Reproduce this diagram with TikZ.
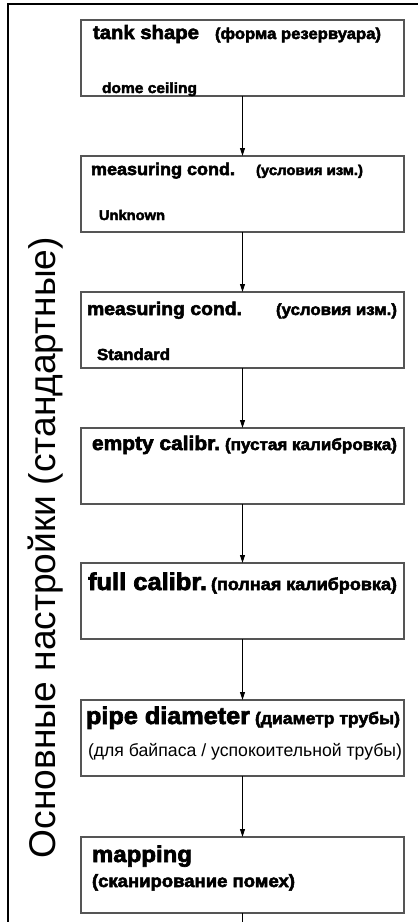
\documentclass[tikz,border=0pt]{standalone}
\usepackage{fontspec}
\usepackage{graphicx}
\setmainfont{Liberation Sans}
\newfontfamily\heavy[FakeStretch=1.05,FakeBold=3]{Liberation Sans}
\usetikzlibrary{arrows.meta}
\definecolor{boxgray}{HTML}{555555}
\newcommand{\hv}[2]{\resizebox{#1pt}{!}{\heavy\bfseries\fontsize{17}{17}\selectfont #2}}
\newcommand{\rg}[2]{\resizebox{#1pt}{!}{\fontsize{17}{17}\selectfont #2}}
\begin{document}
\begin{tikzpicture}[x=1pt,y=-1pt,
  stepbox/.style={draw=boxgray, line width=1.1pt, minimum width=323pt, minimum height=76pt, anchor=north west, inner sep=0pt, outer sep=0pt},
  tx/.style={anchor=base west, inner sep=0pt, outer sep=0pt},
  link/.style={draw=black, line width=1pt, -{Triangle[length=8pt,width=5pt]}},
  frame/.style={draw=black, line width=1.4pt}]
\useasboundingbox (0,0) rectangle (418,922);
% outer frame (open at bottom and right)
\coordinate (fr) at (418,4);
\coordinate (fc) at (8,4);
\coordinate (fb) at (8,922);
\draw[frame] (fr) -- (fc) -- (fb);
% vertical label
\node[rotate=90, anchor=base, inner sep=0pt] (side) at (55.5,547.5) {\rg{621}{Основные настройки (стандартные)}};
% boxes
\node[stepbox] (b1) at (81,20) {};
\node[stepbox] (b2) at (81,156) {};
\node[stepbox] (b3) at (81,292) {};
\node[stepbox] (b4) at (81,428) {};
\node[stepbox] (b5) at (81,563) {};
\node[stepbox] (b6) at (81,700) {};
\node[stepbox] (b7) at (81,837) {};
% texts
\node[tx] (t1a) at (93,39) {\hv{106}{tank shape}};
\node[tx] (t1b) at (215,39) {\hv{166}{(форма резервуара)}};
\node[tx] (t1c) at (102,93) {\hv{95}{dome ceiling}};
\node[tx] (t2a) at (91,175) {\hv{144}{measuring cond.}};
\node[tx] (t2b) at (256,175) {\hv{107}{(условия изм.)}};
\node[tx] (t2c) at (99,220) {\hv{66}{Unknown}};
\node[tx] (t3a) at (87,315) {\hv{155}{measuring cond.}};
\node[tx] (t3b) at (276,315) {\hv{121}{(условия изм.)}};
\node[tx] (t3c) at (97,360) {\hv{73}{Standard}};
\node[tx] (t4a) at (92,450) {\hv{128}{empty calibr.}};
\node[tx] (t4b) at (225,450) {\hv{172}{(пустая калибровка)}};
\node[tx] (t5a) at (88,590) {\hv{119}{full calibr.}};
\node[tx] (t5b) at (211,590) {\hv{186}{(полная калибровка)}};
\node[tx] (t6a) at (86,724) {\hv{164}{pipe diameter}};
\node[tx] (t6b) at (255,724) {\hv{145}{(диаметр трубы)}};
\node[tx] (t6c) at (88,756) {\rg{314}{(для байпаса / успокоительной трубы)}};
\node[tx] (t7a) at (92,862) {\hv{100}{mapping}};
\node[tx] (t7b) at (92,887) {\hv{203}{(сканирование помех)}};
% connectors
\coordinate (end) at (242.5,922);
\draw[link] (b1.south) -- (b2.north);
\draw[link] (b2.south) -- (b3.north);
\draw[link] (b3.south) -- (b4.north);
\draw[link] (b4.south) -- (b5.north);
\draw[link] (b5.south) -- (b6.north);
\draw[link] (b6.south) -- (b7.north);
\draw[line width=1pt] (b7.south) -- (end);
\end{tikzpicture}
\end{document}
